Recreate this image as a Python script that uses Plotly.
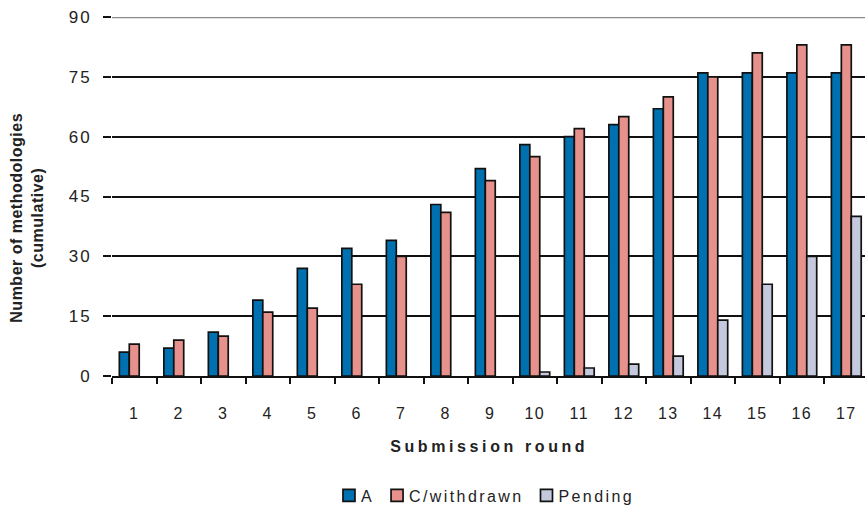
import plotly.graph_objects as go

rounds = [str(i) for i in range(1, 18)]
accepted = [6, 7, 11, 19, 27, 32, 34, 43, 52, 58, 60, 63, 67, 76, 76, 76, 76]
withdrawn = [8, 9, 10, 16, 17, 23, 30, 41, 49, 55, 62, 65, 70, 75, 81, 83, 83]
pending = [None] * 9 + [1, 2, 3, 5, 14, 23, 30, 40]
y_ticks = [0, 15, 30, 45, 60, 75, 90]

FONT = "Liberation Sans, Arial, sans-serif"
TEXT = "#222222"
outline = dict(color="#111111", width=1.7)

fig = go.Figure()
fig.add_bar(x=rounds, y=accepted, name="A",
            marker=dict(color="#0071B0", line=outline))
fig.add_bar(x=rounds, y=withdrawn, name="C/withdrawn",
            marker=dict(color="#E6918B", line=outline))
fig.add_bar(x=rounds, y=pending, name="Pending",
            marker=dict(color="#C4C9DD", line=outline))

fig.update_layout(
    width=865, height=507,
    margin=dict(l=112, r=0, t=17, b=131, autoexpand=False),
    paper_bgcolor="white", plot_bgcolor="white",
    barmode="group", bargap=0.33, bargroupgap=0,
    font=dict(family=FONT, size=16, color=TEXT),
    showlegend=True,
    legend=dict(orientation="h", x=0.5, xanchor="center", y=-0.333,
                yanchor="middle", font=dict(size=16, color=TEXT),
                tracegroupgap=0),
    xaxis=dict(type="category", range=[-0.5, 16.42], automargin=False,
               tickson="boundaries", ticks="outside", ticklen=6,
               tickwidth=1.5, tickcolor="#111111",
               showline=True, linecolor="#111111", linewidth=2,
               showgrid=False, zeroline=False,
               tickfont=dict(size=16), ticklabelstandoff=22),
    yaxis=dict(range=[0, 90], tickvals=y_ticks, ticks="outside",
               automargin=False,
               ticklen=8, tickwidth=1.5, tickcolor="#111111",
               showgrid=True, gridcolor="#111111", gridwidth=1.5,
               showline=False, zeroline=False,
               tickfont=dict(size=17), ticklabelstandoff=8),
    shapes=[dict(type="line", xref="paper", yref="y", x0=0, x1=1,
                 y0=90, y1=90, line=dict(color="#8a8a8a", width=2.5),
                 layer="above")],
    annotations=[
        dict(text="<b>Number of methodologies<br>(cumulative)</b>",
             xref="paper", yref="paper", x=-0.113, y=0.44,
             textangle=-90, showarrow=False, xanchor="center",
             yanchor="middle", font=dict(size=16, color=TEXT)),
        dict(text="<b>Submission round</b>", xref="paper", yref="paper",
             x=0.5, y=-0.197, showarrow=False, xanchor="center",
             yanchor="middle", font=dict(size=16, color=TEXT)),
    ],
)

# wide character tracking on labels, then re-flow the legend entries
spacing_js = """
var gd = document.getElementById('{plot_id}');
function track(sel, px) {
  gd.querySelectorAll(sel).forEach(function (el) {
    el.style.letterSpacing = px;
  });
}
track('.xtick text', '1.5px');
track('.ytick text', '2px');
track('.legendtext', '2.4px');
var ann = gd.querySelectorAll('.annotation-text');
if (ann.length > 1) {
  ann[0].style.letterSpacing = '0.5px';
  ann[1].style.letterSpacing = '3.6px';
}

gd.querySelectorAll('.legend [clip-path]').forEach(function (el) {
  el.removeAttribute('clip-path');
});
var legend = gd.querySelector('.legend');
var lm = /translate\\(([-\\d.]+)[ ,]+([-\\d.]+)\\)/.exec(legend.getAttribute('transform'));
var lx = parseFloat(lm[1]);
var items = gd.querySelectorAll('.legend .traces');
var textX = 32, gap = 3, xs = [], ys = [], widths = [], pos = 0;
items.forEach(function (it) {
  var t = it.querySelector('.legendtext');
  t.setAttribute('x', textX);
  var w = t.getBBox().width;
  var m = /translate\\(([-\\d.]+)[ ,]+([-\\d.]+)\\)/.exec(it.getAttribute('transform'));
  ys.push(m ? parseFloat(m[2]) : 0);
  xs.push(pos);
  widths.push(w);
  pos += textX + w + gap;
});
var n = items.length;
var spanL = 14, spanR = xs[n - 1] + textX + widths[n - 1];
var center = 112 + 753 / 2;
var shift = center - (spanL + spanR) / 2 - lx;
items.forEach(function (it, i) {
  it.setAttribute('transform', 'translate(' + (xs[i] + shift) + ',' + ys[i] + ')');
});
"""

fig.write_html("out.html", post_script=spacing_js)
